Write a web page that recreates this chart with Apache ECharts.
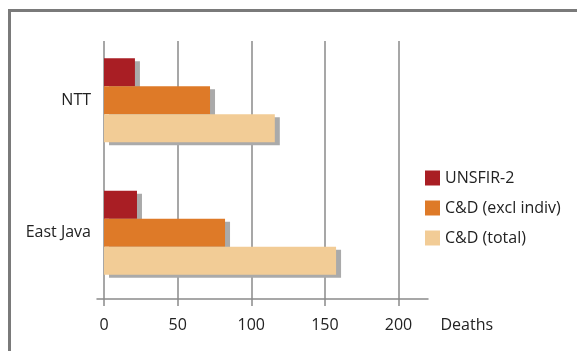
<!DOCTYPE html>
<html>
<head>
<meta charset="utf-8">
<script src="https://cdn.jsdelivr.net/npm/echarts@6/dist/echarts.min.js"></script>
<style>
  html, body { margin: 0; padding: 0; background: #fff; }
  #frame { position: absolute; left: 8px; top: 9px; width: 569px; height: 342px;
           border-top: 3px solid #7a7a7a; border-left: 3px solid #7a7a7a; box-sizing: border-box; }
  #main { position: absolute; left: 0; top: 0; width: 577px; height: 351px; }
</style>
</head>
<body>
<div id="frame"></div>
<div id="main"></div>
<script>
// 数据
var categories = ["NTT", "East Java"];
var unsfir = [21, 22.4];
var cdExcl = [72, 82.2];
var cdTotal = [116, 157.6];
var xTicks = [0, 50, 100, 150, 200];

var font = "'Open Sans', sans-serif";
var shadow = { shadowColor: "#aaaaaa", shadowBlur: 0, shadowOffsetX: 5, shadowOffsetY: 3 };

function bar(name, data, color) {
  return {
    name: name,
    type: "bar",
    xAxisIndex: 0,
    yAxisIndex: 0,
    barWidth: 28,
    barGap: 0,
    itemStyle: Object.assign({ color: color }, shadow),
    data: data
  };
}

var myChart = echarts.init(document.getElementById("main"));
var option = {
  animation: false,
  textStyle: { fontFamily: font },
  legend: {
    orient: "vertical",
    left: 425,
    top: 170,
    padding: 0,
    itemWidth: 15,
    itemHeight: 15,
    itemGap: 14,
    icon: "rect",
    textStyle: { fontSize: 16, color: "#222", fontFamily: font },
    data: ["UNSFIR-2", "C&D (excl indiv)", "C&D (total)"]
  },
  grid: [
    { left: 104, width: 294.5, top: 34, height: 265 },  // bars
    { left: 104, width: 294.5, top: 41, height: 258 },  // gridlines
    { left: 97, width: 331, top: 41, height: 258 }      // axis line
  ],
  xAxis: [
    {
      gridIndex: 0, type: "value", min: xTicks[0], max: xTicks[xTicks.length - 1], interval: 50,
      axisLine: { show: false },
      axisTick: { show: true, length: 7, lineStyle: { color: "#8a8a8a", width: 1.5 } },
      axisLabel: { margin: 18, fontSize: 16, color: "#222", fontFamily: font },
      splitLine: { show: false },
      name: "Deaths",
      nameLocation: "end",
      nameGap: 42,
      nameTextStyle: { fontSize: 16, color: "#222", fontFamily: font, verticalAlign: "top", padding: [18, 0, 0, 0] }
    },
    {
      gridIndex: 1, type: "value", min: 0, max: 200, interval: 50,
      axisLine: { show: false }, axisTick: { show: false }, axisLabel: { show: false },
      splitLine: { show: true, lineStyle: { color: "#8a8a8a", width: 1.5 } }
    },
    {
      gridIndex: 2, type: "value", min: 0, max: 1,
      axisLine: { show: true, lineStyle: { color: "#8a8a8a", width: 1.5 } },
      axisTick: { show: false }, axisLabel: { show: false }, splitLine: { show: false }
    }
  ],
  yAxis: [
    {
      gridIndex: 0, type: "category", inverse: true, data: categories,
      axisLine: { show: false }, axisTick: { show: false },
      axisLabel: { margin: 13, fontSize: 16, color: "#222", fontFamily: font }
    },
    { gridIndex: 1, type: "value", show: false },
    { gridIndex: 2, type: "value", show: false }
  ],
  series: [
    bar("UNSFIR-2", unsfir, "#a91e24"),
    bar("C&D (excl indiv)", cdExcl, "#de7a28"),
    bar("C&D (total)", cdTotal, "#f2cc96")
  ]
};
myChart.setOption(option);
</script>
</body>
</html>
